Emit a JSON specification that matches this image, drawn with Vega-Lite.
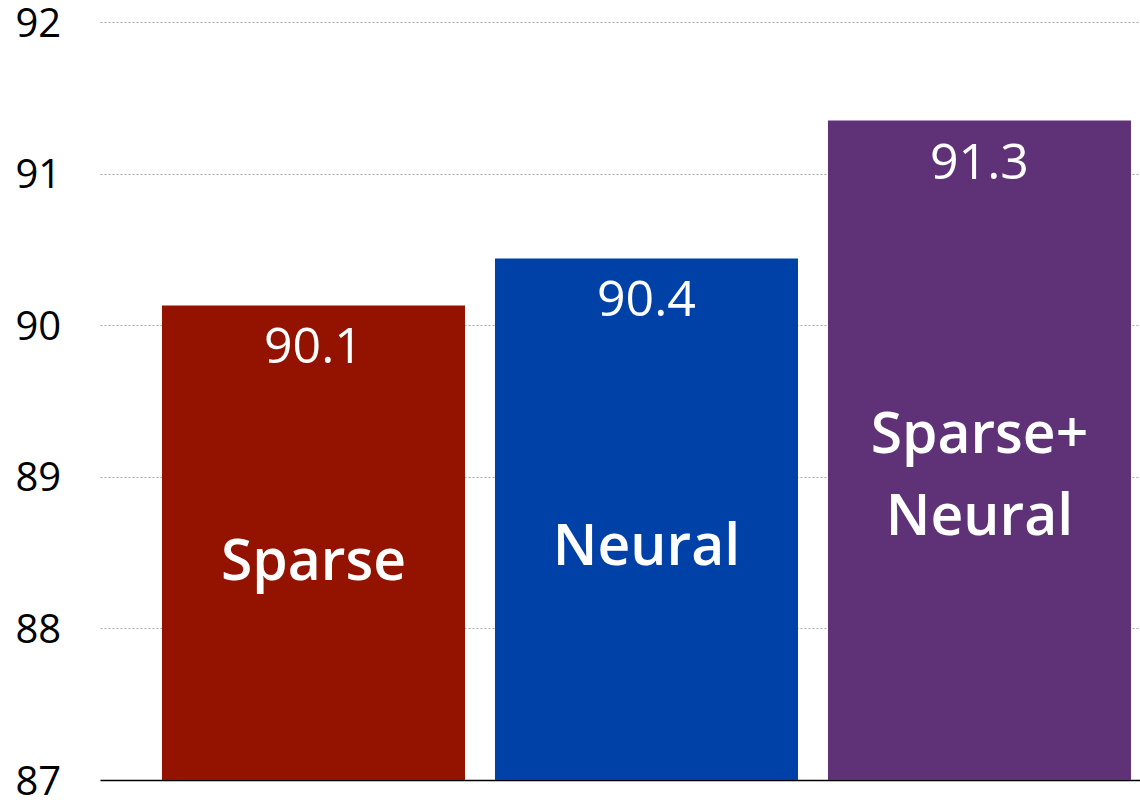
{
  "$schema": "https://vega.github.io/schema/vega-lite/v6.json",
  "width": 1040,
  "height": 758,
  "autosize": {"type": "none"},
  "padding": {"left": 100, "top": 22, "right": 0, "bottom": 23},
  "background": "white",
  "config": {"view": {"stroke": null}, "font": "Open Sans"},
  "data": {
    "values": [
      {"method": "Sparse", "value": 90.13, "label": "90.1", "display": "Sparse"},
      {"method": "Neural", "value": 90.44, "label": "90.4", "display": "Neural"},
      {"method": "Sparse+Neural", "value": 91.35, "label": "91.3", "display": "Sparse+\nNeural"}
    ]
  },
  "encoding": {
    "x": {
      "field": "method",
      "type": "nominal",
      "sort": null,
      "scale": {"paddingInner": 0.09, "paddingOuter": 0.1066, "align": 0.873},
      "axis": {"title": null, "labels": false, "ticks": false, "domainColor": "#000000", "domainWidth": 1.5}
    }
  },
  "layer": [
    {
      "mark": {"type": "bar"},
      "encoding": {
        "y": {
          "field": "value",
          "type": "quantitative",
          "scale": {"domain": [87, 92], "zero": false, "nice": false},
          "axis": {
            "title": null,
            "values": [87, 88, 89, 90, 91, 92],
            "format": "d",
            "ticks": false,
            "domain": false,
            "labelAlign": "left",
            "labelBaseline": "middle",
            "labelPadding": 85,
            "labelOffset": 2,
            "labelFontSize": 40,
            "labelColor": "#000000",
            "labelFlush": false,
            "gridColor": "#a8a8a8",
            "gridDash": [2, 2],
            "gridWidth": 1
          }
        },
        "y2": {"datum": 87},
        "color": {
          "field": "method",
          "type": "nominal",
          "scale": {"domain": ["Sparse", "Neural", "Sparse+Neural"], "range": ["#931300", "#0041A8", "#5F3278"]},
          "legend": null
        }
      }
    },
    {
      "mark": {"type": "text", "dy": 43, "fontSize": 50, "fontWeight": 400, "color": "white", "baseline": "middle"},
      "encoding": {
        "y": {"field": "value", "type": "quantitative"},
        "text": {"field": "label"}
      }
    },
    {
      "transform": [{"filter": "datum.method === 'Sparse'"}],
      "mark": {"type": "text", "fontSize": 57, "fontWeight": 600, "color": "white", "baseline": "middle"},
      "encoding": {"y": {"datum": 88.43, "type": "quantitative"}, "text": {"field": "display"}}
    },
    {
      "transform": [{"filter": "datum.method === 'Neural'"}],
      "mark": {"type": "text", "fontSize": 57, "fontWeight": 600, "color": "white", "baseline": "middle"},
      "encoding": {"y": {"datum": 88.53, "type": "quantitative"}, "text": {"field": "display"}}
    },
    {
      "transform": [{"filter": "datum.method === 'Sparse+Neural'"}],
      "mark": {"type": "text", "fontSize": 57, "fontWeight": 600, "color": "white", "baseline": "middle", "lineBreak": "\n", "lineHeight": 82},
      "encoding": {"y": {"datum": 89.27, "type": "quantitative"}, "text": {"field": "display"}}
    }
  ]
}
